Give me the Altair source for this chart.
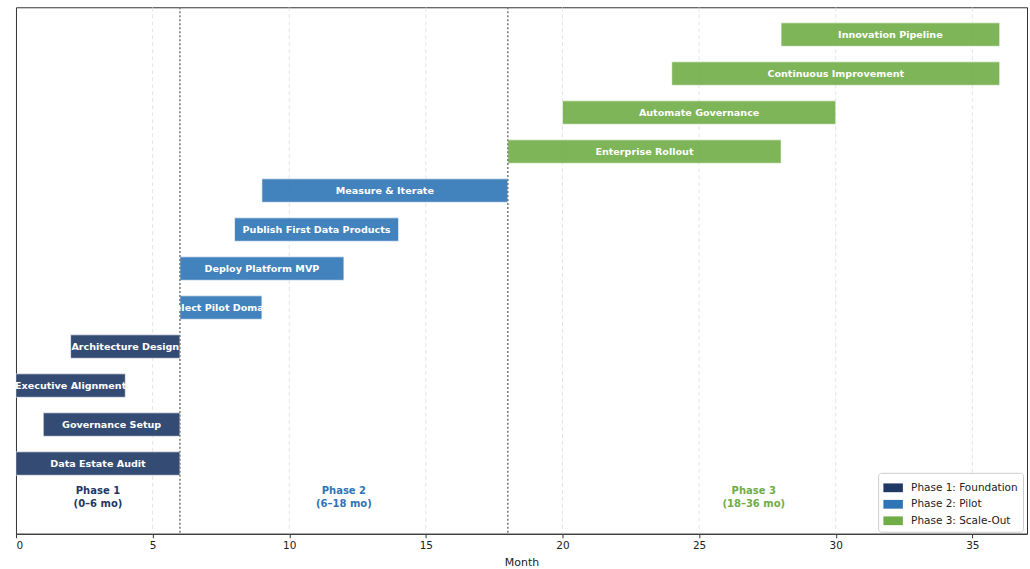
import altair as alt
import pandas as pd

tasks = ["Data Estate Audit", "Governance Setup", "Executive Alignment", "Architecture Design",
         "Select Pilot Domain", "Deploy Platform MVP", "Publish First Data Products", "Measure & Iterate",
         "Enterprise Rollout", "Automate Governance", "Continuous Improvement", "Innovation Pipeline"]
starts = [0, 1, 0, 2, 6, 6, 8, 9, 18, 20, 24, 28]
ends = [6, 6, 4, 6, 9, 12, 14, 18, 28, 30, 36, 36]
phase_names = ["Phase 1: Foundation", "Phase 2: Pilot", "Phase 3: Scale-Out"]
task_phase = [0, 0, 0, 0, 1, 1, 1, 1, 2, 2, 2, 2]
phase_colors = ["#1f3864", "#2e75b6", "#70ad47"]
phase_label_lines = [["Phase 1", "(0–6 mo)"], ["Phase 2", "(6–18 mo)"], ["Phase 3", "(18–36 mo)"]]
phase_label_x = [3, 12, 27]
phase_label_y = -0.7
boundaries = [6, 18]
x_ticks = [0, 5, 10, 15, 20, 25, 30, 35]
grid_lines = [5, 10, 15, 20, 25, 30, 35]

FONT = "DejaVu Sans"

bars_df = pd.DataFrame({
    "task": tasks,
    "start": starts,
    "end": ends,
    "row": list(range(len(tasks))),
    "phase": [phase_names[i] for i in task_phase],
})
labels_df = pd.DataFrame({
    "x": phase_label_x,
    "y": [phase_label_y] * 3,
    "text": phase_label_lines,
    "phase": phase_names,
})
bound_df = pd.DataFrame({"x": boundaries})
grid_df = pd.DataFrame({"x": grid_lines})

xscale = alt.Scale(domain=[0, 37], nice=False, zero=False)
yscale = alt.Scale(domain=[-1.8, 11.7], nice=False, zero=False)
cscale = alt.Scale(domain=phase_names, range=phase_colors)

xaxis = alt.Axis(values=x_ticks, title="Month", grid=False,
                 labelFontSize=10.5, titleFontSize=11, labelFont=FONT, titleFont=FONT,
                 titleFontWeight="normal",
                 labelColor="#222", titleColor="#222", tickColor="#333", domainColor="#333",
                 tickSize=4, labelPadding=3, titlePadding=5)

grid = alt.Chart(grid_df).mark_rule(color="#dddddd", strokeDash=[4, 3], strokeWidth=0.8).encode(
    x=alt.X("x:Q", scale=xscale, axis=xaxis)
)

base = alt.Chart(bars_df).transform_calculate(y0="datum.row - 0.3", y1="datum.row + 0.3")

bars = base.mark_bar(opacity=0.9, stroke="white", strokeWidth=0.6).encode(
    x=alt.X("start:Q", scale=xscale, axis=xaxis),
    x2="end:Q",
    y=alt.Y("y0:Q", scale=yscale, axis=None),
    y2="y1:Q",
    color=alt.Color("phase:N", scale=cscale, title=None,
                    legend=alt.Legend(orient="none", legendX=863, legendY=466)),
)

bar_text = base.transform_calculate(mid="(datum.start + datum.end) / 2").mark_text(
    color="white", fontWeight="bold", font=FONT, fontSize=9.6, baseline="middle", align="center"
).encode(
    x=alt.X("mid:Q", scale=xscale),
    y=alt.Y("row:Q", scale=yscale),
    text="task:N",
)

rules = alt.Chart(bound_df).mark_rule(color="#777777", strokeDash=[2, 2], strokeWidth=1.5).encode(
    x=alt.X("x:Q", scale=xscale)
)

phase_text = alt.Chart(labels_df).mark_text(
    fontWeight="bold", font=FONT, fontSize=10, baseline="middle", align="center", lineHeight=13
).encode(
    x=alt.X("x:Q", scale=xscale),
    y=alt.Y("y:Q", scale=yscale),
    text="text",
    color=alt.Color("phase:N", scale=cscale, legend=None),
)

chart = alt.layer(grid, bars, rules, bar_text, phase_text).properties(
    width=1012, height=527,
    padding={"left": 15, "top": 6, "right": 3, "bottom": 2},
    background="white",
).configure_view(
    stroke="#333333", strokeWidth=1
).configure_legend(
    labelFont=FONT, labelFontSize=10.5, labelColor="#222",
    symbolType="M-1,-0.45H1V0.45H-1Z", symbolSize=380, symbolStrokeWidth=0, symbolOpacity=1,
    strokeColor="#cccccc", fillColor="white", padding=5, cornerRadius=3,
    rowPadding=0.5, labelOffset=8,
)

chart.save("out.html", embed_options={"renderer": "svg", "actions": False})
